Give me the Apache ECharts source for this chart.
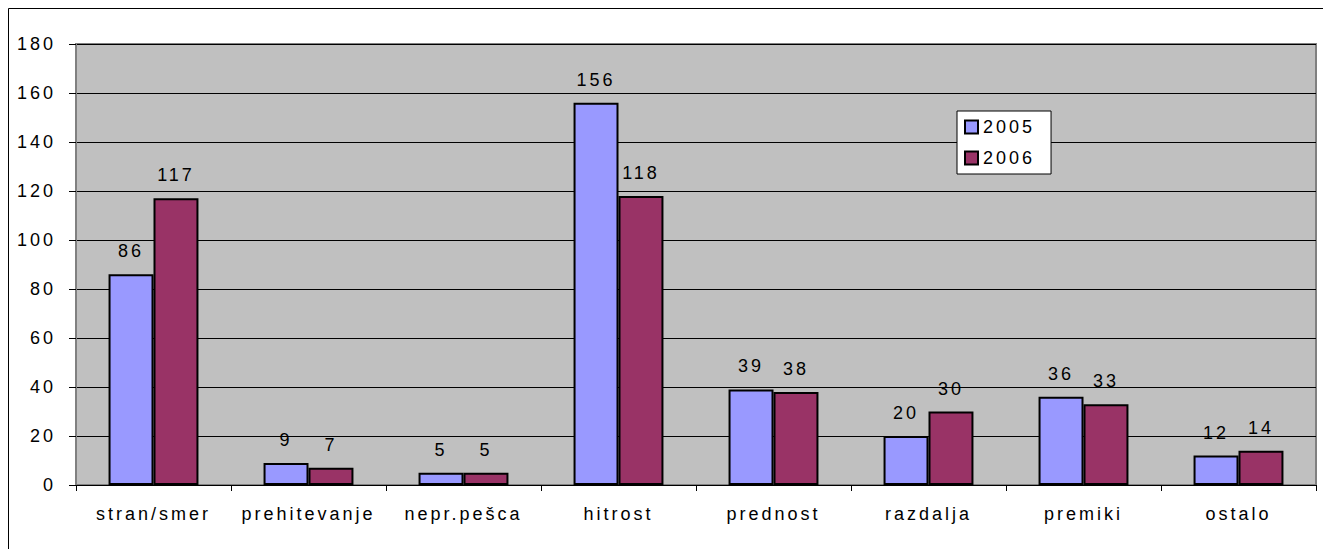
<!DOCTYPE html>
<html>
<head>
<meta charset="utf-8">
<script src="https://cdn.jsdelivr.net/npm/echarts@6/dist/echarts.min.js"></script>
<style>
  html, body { margin: 0; padding: 0; background: #fff; }
  #chart { width: 1323px; height: 549px; }
  /* razmaknjene črke kot v izvirniku */
  #chart text { letter-spacing: 3px; }
</style>
</head>
<body>
<div id="chart"></div>
<script>
// kategorije in vrednosti
const categories = ['stran/smer', 'prehitevanje', 'nepr.pešca', 'hitrost', 'prednost', 'razdalja', 'premiki', 'ostalo']
const values2005 = [86, 9, 5, 156, 39, 20, 36, 12]
const values2006 = [117, 7, 5, 118, 38, 30, 33, 14]
const seriesNames = ['2005', '2006']
const colorList = ['#9999FF', '#993366']

const chart = echarts.init(document.getElementById('chart'), null, { renderer: 'svg' })

const font = 'Arial, "Liberation Sans", sans-serif'

const makeSeries = (name, data, color) => ({
  name,
  type: 'bar',
  data,
  barGap: '0%',
  barCategoryGap: '42%',
  itemStyle: {
    color,
    borderColor: '#000',
    borderWidth: 2
  },
  label: {
    show: true,
    position: 'top',
    distance: 14,
    color: '#000',
    fontSize: 18,
    fontFamily: font
  }
})

const option = {
  backgroundColor: '#fff',
  animation: false,
  graphic: [{
    type: 'rect',
    shape: { x: 8.5, y: 8.5, width: 1400, height: 700 },
    style: { fill: null, stroke: '#000', lineWidth: 1 },
    silent: true
  }],
  legend: {
    orient: 'vertical',
    left: 957,
    top: 111,
    backgroundColor: '#fff',
    borderColor: '#000',
    borderWidth: 1,
    padding: [6, 28, 6, 7],
    itemWidth: 13,
    itemHeight: 13,
    itemGap: 11,
    icon: 'rect',
    textStyle: { color: '#000', fontSize: 18, lineHeight: 20, fontFamily: font, padding: [0, 0, 0, 0] },
    data: seriesNames
  },
  grid: {
    left: 76,
    top: 44,
    right: 7,
    bottom: 64,
    show: true,
    backgroundColor: '#C0C0C0',
    borderColor: '#808080',
    borderWidth: 2
  },
  xAxis: {
    type: 'category',
    data: categories,
    axisLine: { lineStyle: { color: '#000', width: 1 } },
    axisTick: { show: true, alignWithLabel: false, length: 6, lineStyle: { color: '#000' } },
    axisLabel: { color: '#000', fontSize: 18, fontFamily: font, margin: 20, interval: 0 }
  },
  yAxis: {
    type: 'value',
    min: 0,
    max: 180,
    interval: 20,
    axisLine: { show: true, lineStyle: { color: '#808080', width: 2 } },
    axisTick: { show: true, length: 7, lineStyle: { color: '#000' } },
    axisLabel: { color: '#000', fontSize: 18, fontFamily: font, margin: 20 },
    splitLine: { show: true, lineStyle: { color: '#000', width: 1 } }
  },
  series: [
    makeSeries(seriesNames[0], values2005, colorList[0]),
    makeSeries(seriesNames[1], values2006, colorList[1])
  ]
}

chart.setOption(option)
</script>
</body>
</html>
